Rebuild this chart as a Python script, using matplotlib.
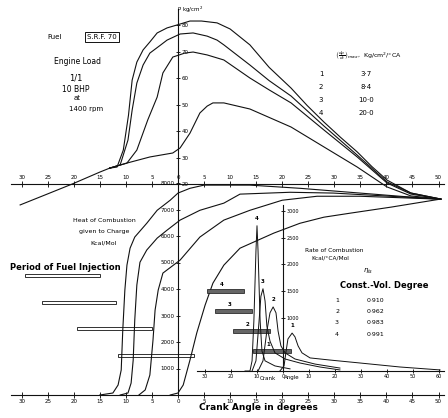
import numpy as np
import matplotlib.pyplot as plt
from matplotlib.ticker import FuncFormatter

W, H = 448, 418

# compression line shared by all four pressure curves (deg, kg/cm2)
comp_theta = [-30.3, -25.1, -20.3, -15.0, -13.1]
comp_p = [12.1, 16.2, 20.0, 24.5, 26.0]

# pressure after split, curves 1..4
p1_theta = [-9.8, -5.4, -1.0, 0.4, 2.3, 4.2, 5.6, 6.7, 8.8, 13.8, 21.7, 28.0, 34.4, 40.1, 44.7, 50.5]
p1 = [27.9, 30.2, 31.7, 33.6, 39.2, 46.8, 49.4, 50.6, 50.6, 48.3, 41.5, 34.0, 26.4, 18.9, 15.5, 14.3]
p2_theta = [-9.8, -7.9, -5.8, -4.0, -2.9, -1.0, 1.3, 2.9, 5.6, 8.8, 13.8, 17.5, 21.7, 28.0, 34.4, 40.1, 44.7, 50.5]
p2 = [27.9, 32.8, 44.2, 52.8, 61.9, 67.9, 69.4, 69.8, 68.7, 66.8, 60.0, 55.5, 50.6, 40.4, 30.2, 20.4, 16.2, 14.3]
p3_theta = [-11.1, -9.6, -8.8, -7.9, -6.7, -5.4, -3.3, -2.1, 0.4, 2.9, 5.6, 7.5, 8.8, 13.8, 17.5, 21.7, 28.0, 34.4, 40.1, 44.7, 50.5]
p3 = [27.2, 36.6, 47.9, 58.1, 64.9, 69.4, 72.5, 74.3, 76.6, 77.0, 75.8, 74.3, 72.5, 64.9, 59.0, 53.2, 41.9, 30.9, 20.8, 16.6, 14.3]
p4_theta = [-11.7, -10.5, -9.5, -8.8, -7.9, -6.7, -5.4, -4.0, -2.1, -0.2, 2.3, 4.5, 7.5, 10.0, 13.8, 17.5, 21.7, 24.8, 28.0, 31.2, 34.4, 37.2, 40.1, 44.7, 50.5]
p4 = [26.4, 32.8, 46.0, 59.2, 66.0, 70.6, 73.6, 77.0, 78.9, 80.0, 81.5, 81.5, 80.8, 78.5, 72.5, 64.0, 56.2, 49.6, 43.4, 37.6, 32.1, 26.6, 21.5, 16.6, 14.3]

# heat of combustion given to charge, Kcal/Mol
q1_theta = [-1.5, 0.0, 1.0, 2.3, 3.6, 5.2, 6.7, 8.8, 11.9, 18.4, 23.4, 28.0, 33.0, 40.9, 50.3]
q1 = [0, 75, 377, 1320, 2340, 3390, 4220, 4900, 5540, 6110, 6480, 6710, 6860, 7090, 7390]
q2_theta = [-7.5, -6.3, -5.4, -4.8, -4.4, -3.8, -2.9, 0.4, 4.2, 8.8, 13.8, 20.0, 26.7, 34.9, 50.3]
q2 = [0, 190, 754, 2070, 3200, 3960, 4600, 5090, 5960, 6600, 6970, 7350, 7500, 7500, 7390]
q3_theta = [-11.1, -9.6, -9.0, -8.6, -8.3, -7.9, -7.3, -6.0, -4.0, -2.1, 0.4, 4.2, 8.8, 11.9, 21.5, 29.8, 40.7, 50.3]
q3 = [0, 75, 450, 1320, 2830, 4150, 5010, 5470, 5920, 6220, 6600, 6970, 7240, 7580, 7650, 7620, 7500, 7390]
q4_theta = [-15.0, -12.5, -11.5, -10.9, -10.6, -10.2, -9.8, -9.2, -8.3, -6.0, -4.0, -1.5, 0.0, 2.3, 5.0, 13.8, 23.4, 33.0, 42.6, 50.3]
q4 = [0, 75, 377, 943, 2450, 3960, 4900, 5540, 5960, 6480, 6970, 7350, 7620, 7800, 7920, 7920, 7800, 7650, 7500, 7390]

# rate of combustion, Kcal/deg CA/Mol
r1_theta = [-1.2, 0.4, 1.2, 1.9, 3.5, 4.6, 5.8, 7.3, 10.4, 18.1, 29.6, 45.0, 60.4]
r1 = [0, 95, 375, 600, 710, 640, 470, 340, 245, 205, 150, 75, 20]
r2_theta = [-9.6, -7.7, -6.2, -5.0, -3.8, -2.7, -1.9, -0.8, 0.8, 4.6, 12.3, 21.9]
r2 = [0, 190, 750, 1090, 1200, 1090, 750, 470, 340, 225, 130, 55]
r3_theta = [-11.9, -10.4, -9.2, -8.5, -7.7, -6.9, -6.2, -5.0, -3.1, 0.8, 6.5, 14.2, 21.9]
r3 = [0, 190, 940, 1400, 1540, 1310, 840, 560, 340, 225, 150, 75, 20]
r4_theta = [-14.6, -12.7, -11.9, -11.2, -10.4, -10.0, -9.6, -8.8, -8.1, -6.9, -3.1, 2.7]
r4 = [0, 0, 190, 940, 2250, 2720, 2250, 940, 375, 190, 95, 40]

# fuel injection periods (deg), curves 1..4
inj_start = [-11.5, -19.4, -26.1, -29.4]
inj_end = [3.1, -5.0, -11.9, -15.0]

curve_ids = ["1", "2", "3", "4"]
dpdt_max = ["3·7", "8·4", "10·0", "20·0"]
eta_cv = ["0·910", "0·962", "0·983", "0·991"]

fig = plt.figure(figsize=(W / 100, H / 100), dpi=100)
fig.patch.set_facecolor("white")

LC = "#111111"
TS = 4


def full_axes(xlim, ylim):
  ax = fig.add_axes([0, 0, 1, 1])
  ax.patch.set_alpha(0)
  ax.set_xlim(*xlim)
  ax.set_ylim(*ylim)
  for s in ax.spines.values():
    s.set_linewidth(0.8)
    s.set_color(LC)
  return ax


def place_axes(ax, x0, y0, xb, yb):
  ax.spines["left"].set_position(("data", x0))
  ax.spines["right"].set_position(("data", x0))
  ax.spines["bottom"].set_position(("data", y0))
  ax.spines["top"].set_position(("data", y0))
  ax.spines["left"].set_bounds(*yb)
  ax.spines["bottom"].set_bounds(*xb)
  ax.spines["right"].set_visible(False)
  ax.spines["top"].set_visible(False)


absfmt = FuncFormatter(lambda v, pos: "%d" % abs(v))

# pressure diagram: 5.21 px per degree, 2.65 px per kg/cm2
ax_p = full_axes((-178 / 5.21, (W - 178) / 5.21), (20 - (H - 184) / 2.65, 20 + 184 / 2.65))
place_axes(ax_p, 0, 20, (-32, 51), (20, 86))
ax_p.set_xticks(np.arange(-30, 51, 5))
ax_p.set_yticks(np.arange(20, 81, 10))
ax_p.xaxis.set_major_formatter(absfmt)
ax_p.tick_params(axis="x", bottom=False, top=True, labelbottom=False, labeltop=True,
                 direction="inout", length=4, width=0.6, labelsize=TS, pad=1)
ax_p.tick_params(axis="y", left=False, right=True, labelleft=False, labelright=True,
                 direction="inout", length=3, width=0.6, labelsize=TS, pad=1)

ax_p.plot(comp_theta, comp_p, color=LC, lw=0.8)
for th, p in [(p1_theta, p1), (p2_theta, p2), (p3_theta, p3), (p4_theta, p4)]:
  ax_p.plot([comp_theta[-1]] + th, [comp_p[-1]] + p, color=LC, lw=0.8)

# heat of combustion: 1000 Kcal/Mol per 26.5 px
qs = 1000 / 26.5
ax_q = full_axes((-178 / 5.21, (W - 178) / 5.21), (-(H - 395) * qs, 395 * qs))
place_axes(ax_q, 0, 0, (-32, 51), (0, 8000))
ax_q.set_xticks(np.arange(-30, 51, 5))
ax_q.set_yticks(np.arange(1000, 8001, 1000))
ax_q.xaxis.set_major_formatter(absfmt)
ax_q.tick_params(axis="x", direction="inout", length=4, width=0.6, labelsize=TS, pad=1)
ax_q.tick_params(axis="y", direction="inout", length=3, width=0.6, labelsize=TS, pad=1)

for th, q in [(q1_theta, q1), (q2_theta, q2), (q3_theta, q3), (q4_theta, q4)]:
  ax_q.plot(th, q, color=LC, lw=0.8)

main_rows = [1500, 2500, 3500, 4500]
ax_q.barh(main_rows, np.array(inj_end) - np.array(inj_start), left=inj_start,
          height=110, facecolor="white", edgecolor=LC, lw=0.6)

# inset: rate of combustion, 2.6 px per degree, 500 units per 26.7 px
rs = 500 / 26.7
ax_r = full_axes((-283 / 2.6, (W - 283) / 2.6), (-(H - 371) * rs, 371 * rs))
place_axes(ax_r, 0, 0, (-33, 62), (0, 3100))
ax_r.set_xticks(np.arange(-30, 61, 10))
ax_r.set_yticks(np.arange(1000, 3001, 500))
ax_r.xaxis.set_major_formatter(absfmt)
ax_r.tick_params(axis="x", direction="inout", length=3, width=0.6, labelsize=3.5, pad=1)
ax_r.tick_params(axis="y", left=False, right=True, labelleft=False, labelright=True,
                 direction="inout", length=3, width=0.6, labelsize=3.5, pad=1)

for cid, th, r in [("1", r1_theta, r1), ("2", r2_theta, r2), ("3", r3_theta, r3), ("4", r4_theta, r4)]:
  ax_r.plot(th, r, color=LC, lw=0.7)
  k = int(np.argmax(r))
  ax_r.text(th[k], r[k] + 90, cid, fontsize=4, ha="center", va="bottom", weight="bold")

inset_rows = [375, 750, 1125, 1500]
ax_r.barh(inset_rows, np.array(inj_end) - np.array(inj_start), left=inj_start,
          height=60, facecolor="#666666", edgecolor=LC, lw=0.5)
for cid, row, a, b in zip(curve_ids, inset_rows, inj_start, inj_end):
  ax_r.text(a + 0.4 * (b - a), row + 70, cid, fontsize=4, ha="center", va="bottom", weight="bold")


def put(x, y, s, **kw):
  kw.setdefault("fontsize", 5)
  kw.setdefault("ha", "center")
  kw.setdefault("va", "center")
  fig.text(x / W, 1 - y / H, s, **kw)


put(55, 37, "Fuel")
put(102, 37, "S.R.F. 70", bbox=dict(boxstyle="square,pad=0.25", fc="white", ec=LC, lw=0.7))
put(77, 62, "Engine Load", fontsize=5.5)
put(76, 78, "1/1", fontsize=6)
put(76, 89, "10 BHP", fontsize=5.5)
put(77, 98, "at", fontsize=5)
put(86, 109, "1400 rpm", fontsize=5)

put(190, 10, r"P kg/cm$^2$", fontsize=4)

put(368, 56, r"$\left(\frac{dp}{dt}\right)_{max}$,  Kg/cm$^2$/°CA", fontsize=4.5)
for i, (cid, v) in enumerate(zip(curve_ids, dpdt_max)):
  put(321, 74 + 13 * i, cid, fontsize=5)
  put(366, 74 + 13 * i, v, fontsize=5)

put(104, 220, "Heat of Combustion", fontsize=4.5)
put(104, 231, "given to Charge", fontsize=4.5)
put(104, 243, "Kcal/Mol", fontsize=4.5)
put(65, 267, "Period of Fuel Injection", fontsize=6, weight="bold")

put(334, 250, "Rate of Combustion", fontsize=4.2)
put(330, 258, "Kcal/°CA/Mol", fontsize=4.2)
put(368, 271, r"$\eta_{is}$", fontsize=5)
put(384, 285, "Const.-Vol. Degree", fontsize=6, weight="bold")
for i, (cid, v) in enumerate(zip(curve_ids, eta_cv)):
  put(337, 300 + 11.5 * i, cid, fontsize=4.5)
  put(375, 300 + 11.5 * i, v, fontsize=4.5)

put(268, 378, "Crank", fontsize=4)
put(292, 378, "Angle", fontsize=4)
put(258, 408, "Crank Angle in degrees", fontsize=6.5, weight="bold")

fig.savefig("out.png", dpi=100)
